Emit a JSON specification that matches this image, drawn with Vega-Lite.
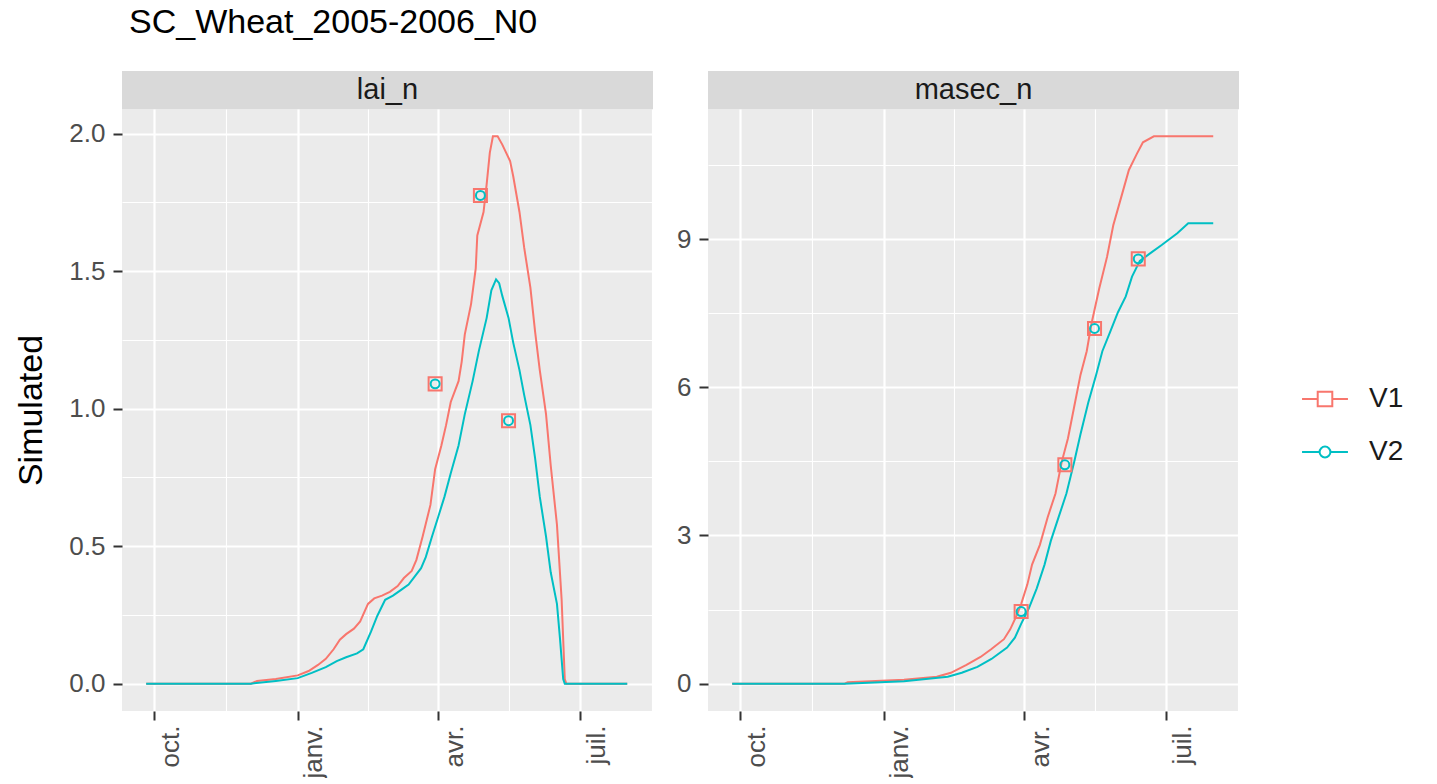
{
  "$schema": "https://vega.github.io/schema/vega-lite/v6.json",
  "padding": {"left": 14, "top": 6, "right": 0, "bottom": 0},
  "background": "white",
  "title": {"text": "SC_Wheat_2005-2006_N0", "anchor": "start", "frame": "group", "fontSize": 34, "fontWeight": "normal", "color": "#000000", "font": "Liberation Sans", "offset": 31, "dx": 7},
  "datasets": {
    "sim": [
      {"p":"lai_n","s":"V1","d":"2005-09-26","v":0},
      {"p":"lai_n","s":"V1","d":"2005-12-02","v":0},
      {"p":"lai_n","s":"V1","d":"2005-12-06","v":0.01},
      {"p":"lai_n","s":"V1","d":"2005-12-18","v":0.017},
      {"p":"lai_n","s":"V1","d":"2006-01-01","v":0.03},
      {"p":"lai_n","s":"V1","d":"2006-01-08","v":0.046},
      {"p":"lai_n","s":"V1","d":"2006-01-14","v":0.068},
      {"p":"lai_n","s":"V1","d":"2006-01-19","v":0.09},
      {"p":"lai_n","s":"V1","d":"2006-01-24","v":0.125},
      {"p":"lai_n","s":"V1","d":"2006-01-28","v":0.16},
      {"p":"lai_n","s":"V1","d":"2006-02-01","v":0.18},
      {"p":"lai_n","s":"V1","d":"2006-02-06","v":0.2},
      {"p":"lai_n","s":"V1","d":"2006-02-10","v":0.226},
      {"p":"lai_n","s":"V1","d":"2006-02-15","v":0.29},
      {"p":"lai_n","s":"V1","d":"2006-02-19","v":0.31},
      {"p":"lai_n","s":"V1","d":"2006-02-24","v":0.32},
      {"p":"lai_n","s":"V1","d":"2006-03-01","v":0.334},
      {"p":"lai_n","s":"V1","d":"2006-03-06","v":0.355},
      {"p":"lai_n","s":"V1","d":"2006-03-10","v":0.384},
      {"p":"lai_n","s":"V1","d":"2006-03-15","v":0.41},
      {"p":"lai_n","s":"V1","d":"2006-03-18","v":0.45},
      {"p":"lai_n","s":"V1","d":"2006-03-22","v":0.535},
      {"p":"lai_n","s":"V1","d":"2006-03-27","v":0.65},
      {"p":"lai_n","s":"V1","d":"2006-03-30","v":0.78},
      {"p":"lai_n","s":"V1","d":"2006-04-03","v":0.866},
      {"p":"lai_n","s":"V1","d":"2006-04-06","v":0.94},
      {"p":"lai_n","s":"V1","d":"2006-04-09","v":1.024},
      {"p":"lai_n","s":"V1","d":"2006-04-14","v":1.1},
      {"p":"lai_n","s":"V1","d":"2006-04-16","v":1.17},
      {"p":"lai_n","s":"V1","d":"2006-04-18","v":1.27},
      {"p":"lai_n","s":"V1","d":"2006-04-22","v":1.38},
      {"p":"lai_n","s":"V1","d":"2006-04-25","v":1.51},
      {"p":"lai_n","s":"V1","d":"2006-04-26","v":1.63},
      {"p":"lai_n","s":"V1","d":"2006-04-30","v":1.715},
      {"p":"lai_n","s":"V1","d":"2006-05-02","v":1.816},
      {"p":"lai_n","s":"V1","d":"2006-05-04","v":1.93},
      {"p":"lai_n","s":"V1","d":"2006-05-06","v":1.99},
      {"p":"lai_n","s":"V1","d":"2006-05-09","v":1.99},
      {"p":"lai_n","s":"V1","d":"2006-05-12","v":1.96},
      {"p":"lai_n","s":"V1","d":"2006-05-17","v":1.9},
      {"p":"lai_n","s":"V1","d":"2006-05-19","v":1.845},
      {"p":"lai_n","s":"V1","d":"2006-05-23","v":1.715},
      {"p":"lai_n","s":"V1","d":"2006-05-26","v":1.586},
      {"p":"lai_n","s":"V1","d":"2006-05-30","v":1.44},
      {"p":"lai_n","s":"V1","d":"2006-06-02","v":1.28},
      {"p":"lai_n","s":"V1","d":"2006-06-05","v":1.14},
      {"p":"lai_n","s":"V1","d":"2006-06-09","v":0.98},
      {"p":"lai_n","s":"V1","d":"2006-06-12","v":0.794},
      {"p":"lai_n","s":"V1","d":"2006-06-16","v":0.578},
      {"p":"lai_n","s":"V1","d":"2006-06-19","v":0.305},
      {"p":"lai_n","s":"V1","d":"2006-06-21","v":0.017},
      {"p":"lai_n","s":"V1","d":"2006-06-22","v":0},
      {"p":"lai_n","s":"V1","d":"2006-07-31","v":0},
      {"p":"lai_n","s":"V2","d":"2005-09-26","v":0},
      {"p":"lai_n","s":"V2","d":"2005-12-02","v":0},
      {"p":"lai_n","s":"V2","d":"2005-12-18","v":0.01},
      {"p":"lai_n","s":"V2","d":"2006-01-01","v":0.02},
      {"p":"lai_n","s":"V2","d":"2006-01-10","v":0.039},
      {"p":"lai_n","s":"V2","d":"2006-01-19","v":0.06},
      {"p":"lai_n","s":"V2","d":"2006-01-26","v":0.082},
      {"p":"lai_n","s":"V2","d":"2006-02-01","v":0.096},
      {"p":"lai_n","s":"V2","d":"2006-02-08","v":0.11},
      {"p":"lai_n","s":"V2","d":"2006-02-12","v":0.125},
      {"p":"lai_n","s":"V2","d":"2006-02-17","v":0.19},
      {"p":"lai_n","s":"V2","d":"2006-02-21","v":0.247},
      {"p":"lai_n","s":"V2","d":"2006-02-26","v":0.305},
      {"p":"lai_n","s":"V2","d":"2006-03-03","v":0.32},
      {"p":"lai_n","s":"V2","d":"2006-03-08","v":0.34},
      {"p":"lai_n","s":"V2","d":"2006-03-13","v":0.36},
      {"p":"lai_n","s":"V2","d":"2006-03-17","v":0.39},
      {"p":"lai_n","s":"V2","d":"2006-03-21","v":0.42},
      {"p":"lai_n","s":"V2","d":"2006-03-24","v":0.46},
      {"p":"lai_n","s":"V2","d":"2006-03-28","v":0.535},
      {"p":"lai_n","s":"V2","d":"2006-04-01","v":0.607},
      {"p":"lai_n","s":"V2","d":"2006-04-05","v":0.68},
      {"p":"lai_n","s":"V2","d":"2006-04-09","v":0.765},
      {"p":"lai_n","s":"V2","d":"2006-04-14","v":0.866},
      {"p":"lai_n","s":"V2","d":"2006-04-18","v":0.98},
      {"p":"lai_n","s":"V2","d":"2006-04-23","v":1.1},
      {"p":"lai_n","s":"V2","d":"2006-04-27","v":1.21},
      {"p":"lai_n","s":"V2","d":"2006-05-02","v":1.33},
      {"p":"lai_n","s":"V2","d":"2006-05-05","v":1.43},
      {"p":"lai_n","s":"V2","d":"2006-05-08","v":1.47},
      {"p":"lai_n","s":"V2","d":"2006-05-10","v":1.456},
      {"p":"lai_n","s":"V2","d":"2006-05-12","v":1.41},
      {"p":"lai_n","s":"V2","d":"2006-05-16","v":1.33},
      {"p":"lai_n","s":"V2","d":"2006-05-19","v":1.24},
      {"p":"lai_n","s":"V2","d":"2006-05-23","v":1.14},
      {"p":"lai_n","s":"V2","d":"2006-05-26","v":1.05},
      {"p":"lai_n","s":"V2","d":"2006-05-30","v":0.94},
      {"p":"lai_n","s":"V2","d":"2006-06-02","v":0.82},
      {"p":"lai_n","s":"V2","d":"2006-06-05","v":0.68},
      {"p":"lai_n","s":"V2","d":"2006-06-09","v":0.535},
      {"p":"lai_n","s":"V2","d":"2006-06-12","v":0.405},
      {"p":"lai_n","s":"V2","d":"2006-06-16","v":0.29},
      {"p":"lai_n","s":"V2","d":"2006-06-18","v":0.16},
      {"p":"lai_n","s":"V2","d":"2006-06-20","v":0.017},
      {"p":"lai_n","s":"V2","d":"2006-06-21","v":0},
      {"p":"lai_n","s":"V2","d":"2006-07-31","v":0},
      {"p":"masec_n","s":"V1","d":"2005-09-26","v":0},
      {"p":"masec_n","s":"V1","d":"2005-12-07","v":0},
      {"p":"masec_n","s":"V1","d":"2005-12-09","v":0.03},
      {"p":"masec_n","s":"V1","d":"2006-01-14","v":0.08},
      {"p":"masec_n","s":"V1","d":"2006-02-04","v":0.14},
      {"p":"masec_n","s":"V1","d":"2006-02-13","v":0.22},
      {"p":"masec_n","s":"V1","d":"2006-02-23","v":0.38},
      {"p":"masec_n","s":"V1","d":"2006-03-04","v":0.54},
      {"p":"masec_n","s":"V1","d":"2006-03-11","v":0.7},
      {"p":"masec_n","s":"V1","d":"2006-03-19","v":0.9},
      {"p":"masec_n","s":"V1","d":"2006-03-23","v":1.1},
      {"p":"masec_n","s":"V1","d":"2006-03-27","v":1.37},
      {"p":"masec_n","s":"V1","d":"2006-03-30","v":1.61},
      {"p":"masec_n","s":"V1","d":"2006-04-03","v":2.01},
      {"p":"masec_n","s":"V1","d":"2006-04-06","v":2.41},
      {"p":"masec_n","s":"V1","d":"2006-04-11","v":2.81},
      {"p":"masec_n","s":"V1","d":"2006-04-16","v":3.37},
      {"p":"masec_n","s":"V1","d":"2006-04-21","v":3.85},
      {"p":"masec_n","s":"V1","d":"2006-04-25","v":4.49},
      {"p":"masec_n","s":"V1","d":"2006-04-29","v":4.97},
      {"p":"masec_n","s":"V1","d":"2006-05-03","v":5.61},
      {"p":"masec_n","s":"V1","d":"2006-05-07","v":6.25},
      {"p":"masec_n","s":"V1","d":"2006-05-11","v":6.73},
      {"p":"masec_n","s":"V1","d":"2006-05-14","v":7.28},
      {"p":"masec_n","s":"V1","d":"2006-05-19","v":8.0},
      {"p":"masec_n","s":"V1","d":"2006-05-24","v":8.64},
      {"p":"masec_n","s":"V1","d":"2006-05-28","v":9.28},
      {"p":"masec_n","s":"V1","d":"2006-06-02","v":9.84},
      {"p":"masec_n","s":"V1","d":"2006-06-07","v":10.4},
      {"p":"masec_n","s":"V1","d":"2006-06-12","v":10.72},
      {"p":"masec_n","s":"V1","d":"2006-06-16","v":10.96},
      {"p":"masec_n","s":"V1","d":"2006-06-23","v":11.08},
      {"p":"masec_n","s":"V1","d":"2006-07-31","v":11.08},
      {"p":"masec_n","s":"V2","d":"2005-09-26","v":0},
      {"p":"masec_n","s":"V2","d":"2005-12-07","v":0},
      {"p":"masec_n","s":"V2","d":"2006-01-14","v":0.05},
      {"p":"masec_n","s":"V2","d":"2006-02-11","v":0.14},
      {"p":"masec_n","s":"V2","d":"2006-02-20","v":0.22},
      {"p":"masec_n","s":"V2","d":"2006-03-02","v":0.34},
      {"p":"masec_n","s":"V2","d":"2006-03-11","v":0.5},
      {"p":"masec_n","s":"V2","d":"2006-03-21","v":0.73},
      {"p":"masec_n","s":"V2","d":"2006-03-26","v":0.93},
      {"p":"masec_n","s":"V2","d":"2006-03-30","v":1.21},
      {"p":"masec_n","s":"V2","d":"2006-04-04","v":1.53},
      {"p":"masec_n","s":"V2","d":"2006-04-09","v":1.93},
      {"p":"masec_n","s":"V2","d":"2006-04-14","v":2.41},
      {"p":"masec_n","s":"V2","d":"2006-04-18","v":2.89},
      {"p":"masec_n","s":"V2","d":"2006-04-23","v":3.37},
      {"p":"masec_n","s":"V2","d":"2006-04-28","v":3.85},
      {"p":"masec_n","s":"V2","d":"2006-05-03","v":4.49},
      {"p":"masec_n","s":"V2","d":"2006-05-07","v":5.05},
      {"p":"masec_n","s":"V2","d":"2006-05-12","v":5.69},
      {"p":"masec_n","s":"V2","d":"2006-05-17","v":6.25},
      {"p":"masec_n","s":"V2","d":"2006-05-21","v":6.73},
      {"p":"masec_n","s":"V2","d":"2006-05-26","v":7.12},
      {"p":"masec_n","s":"V2","d":"2006-05-31","v":7.52},
      {"p":"masec_n","s":"V2","d":"2006-06-05","v":7.84},
      {"p":"masec_n","s":"V2","d":"2006-06-09","v":8.24},
      {"p":"masec_n","s":"V2","d":"2006-06-14","v":8.56},
      {"p":"masec_n","s":"V2","d":"2006-06-21","v":8.72},
      {"p":"masec_n","s":"V2","d":"2006-06-28","v":8.88},
      {"p":"masec_n","s":"V2","d":"2006-07-08","v":9.12},
      {"p":"masec_n","s":"V2","d":"2006-07-15","v":9.32},
      {"p":"masec_n","s":"V2","d":"2006-07-31","v":9.32}
    ],
    "obs": [
      {"p":"lai_n","s":"V1","d":"2006-03-30","v":1.09},
      {"p":"lai_n","s":"V1","d":"2006-04-28","v":1.775},
      {"p":"lai_n","s":"V1","d":"2006-05-16","v":0.956},
      {"p":"lai_n","s":"V2","d":"2006-03-30","v":1.09},
      {"p":"lai_n","s":"V2","d":"2006-04-28","v":1.775},
      {"p":"lai_n","s":"V2","d":"2006-05-16","v":0.956},
      {"p":"masec_n","s":"V1","d":"2006-03-30","v":1.46},
      {"p":"masec_n","s":"V1","d":"2006-04-27","v":4.43},
      {"p":"masec_n","s":"V1","d":"2006-05-16","v":7.19},
      {"p":"masec_n","s":"V1","d":"2006-06-13","v":8.6},
      {"p":"masec_n","s":"V2","d":"2006-03-30","v":1.46},
      {"p":"masec_n","s":"V2","d":"2006-04-27","v":4.43},
      {"p":"masec_n","s":"V2","d":"2006-05-16","v":7.19},
      {"p":"masec_n","s":"V2","d":"2006-06-13","v":8.6}
    ]
  },
  "hconcat": [
    {
      "spacing": 0,
      "vconcat": [
        {
          "width": 531, "height": 38,
          "view": {"fill": "#d9d9d9", "stroke": null},
          "data": {"values": [{"label": "lai_n"}]},
          "mark": {"type": "text", "fontSize": 29, "color": "#1a1a1a", "font": "Liberation Sans"},
          "encoding": {"text": {"field": "label"}}
        },
        {
          "width": 531, "height": 602,
          "resolve": {"axis": {"x": "independent", "y": "independent"}},
          "layer": [
            {
              "data": {"name": "sim"},
              "transform": [{"filter": "datum.p === 'lai_n'"}],
              "mark": {"type": "line", "strokeWidth": 2},
              "encoding": {
                "x": {"field": "d", "type": "temporal",
                  "scale": {"domain": [{"year": 2005, "month": 9, "date": 10, "hours": 12}, {"year": 2006, "month": 8, "date": 16, "hours": 12}], "nice": false},
                  "axis": {"values": [{"year": 2005, "month": 10, "date": 1}, {"year": 2006, "month": 1, "date": 1}, {"year": 2006, "month": 4, "date": 1}, {"year": 2006, "month": 7, "date": 1}],
                    "labelExpr": "['janv.','févr.','mars','avr.','mai','juin','juil.','août','sept.','oct.','nov.','déc.'][month(datum.value)]",
                    "title": null}},
                "y": {"field": "v", "type": "quantitative",
                  "scale": {"domain": [-0.0995, 2.0895], "nice": false, "zero": false},
                  "axis": {"values": [0, 0.5, 1, 1.5, 2], "format": ".1f", "title": "Simulated"}},
                "color": {"field": "s", "type": "nominal",
                  "scale": {"domain": ["V1", "V2"], "range": ["#F8766D", "#00BFC4"]},
                  "legend": {
                    "title": null, "orient": "none", "legendX": 1175, "legendY": 300, "padding": 0,
                    "labelFontSize": 28, "labelColor": "#1a1a1a", "labelFont": "Liberation Sans",
                    "symbolSize": 2916, "symbolStrokeWidth": 2, "rowPadding": 11, "labelOffset": 16,
                    "symbolType": "M-0.85,0H-0.27M0.27,0H0.85M-0.27,-0.27H0.27V0.27H-0.27Z",
                    "symbolFillColor": "transparent",
                    "encode": {"symbols": {"update": {
                      "shape": {"signal": "datum.value === 'V2' ? 'M-0.85,0H-0.2M0.2,0H0.85M0.2,0A0.2,0.2,0,1,1,-0.2,0A0.2,0.2,0,1,1,0.2,0' : 'M-0.85,0H-0.27M0.27,0H0.85M-0.27,-0.27H0.27V0.27H-0.27Z'"},
                      "fill": {"value": "transparent"}}}}
                  }}
              }
            },
            {
              "data": {"name": "obs"},
              "transform": [{"filter": "datum.p === 'lai_n' && datum.s === 'V1'"}],
              "mark": {"type": "point", "shape": "square", "size": 170, "filled": false, "strokeWidth": 2, "opacity": 1},
              "encoding": {
                "x": {"field": "d", "type": "temporal",
                  "axis": {"orient": "top", "values": [{"year": 2005, "month": 11, "date": 16}, {"year": 2006, "month": 2, "date": 15}, {"year": 2006, "month": 5, "date": 16, "hours": 12}, {"year": 2006, "month": 8, "date": 16}],
                    "labels": false, "ticks": false, "domain": false, "grid": true, "gridWidth": 1.1, "title": null}},
                "y": {"field": "v", "type": "quantitative",
                  "axis": {"orient": "right", "values": [0.25, 0.75, 1.25, 1.75], "labels": false, "ticks": false, "domain": false, "grid": true, "gridWidth": 1.1, "title": null}},
                "color": {"field": "s", "type": "nominal"}
              }
            },
            {
              "data": {"name": "obs"},
              "transform": [{"filter": "datum.p === 'lai_n' && datum.s === 'V2'"}],
              "mark": {"type": "point", "shape": "circle", "size": 80, "filled": false, "strokeWidth": 2, "opacity": 1},
              "encoding": {
                "x": {"field": "d", "type": "temporal", "axis": null},
                "y": {"field": "v", "type": "quantitative", "axis": null},
                "color": {"field": "s", "type": "nominal"}
              }
            }
          ]
        }
      ]
    },
    {
      "spacing": 0,
      "vconcat": [
        {
          "width": 531, "height": 38,
          "view": {"fill": "#d9d9d9", "stroke": null},
          "data": {"values": [{"label": "masec_n"}]},
          "mark": {"type": "text", "fontSize": 29, "color": "#1a1a1a", "font": "Liberation Sans"},
          "encoding": {"text": {"field": "label"}}
        },
        {
          "width": 531, "height": 602,
          "resolve": {"axis": {"x": "independent", "y": "independent"}},
          "layer": [
            {
              "data": {"name": "sim"},
              "transform": [{"filter": "datum.p === 'masec_n'"}],
              "mark": {"type": "line", "strokeWidth": 2},
              "encoding": {
                "x": {"field": "d", "type": "temporal",
                  "scale": {"domain": [{"year": 2005, "month": 9, "date": 10, "hours": 12}, {"year": 2006, "month": 8, "date": 16, "hours": 12}], "nice": false},
                  "axis": {"values": [{"year": 2005, "month": 10, "date": 1}, {"year": 2006, "month": 1, "date": 1}, {"year": 2006, "month": 4, "date": 1}, {"year": 2006, "month": 7, "date": 1}],
                    "labelExpr": "['janv.','févr.','mars','avr.','mai','juin','juil.','août','sept.','oct.','nov.','déc.'][month(datum.value)]",
                    "title": null}},
                "y": {"field": "v", "type": "quantitative",
                  "scale": {"domain": [-0.554, 11.634], "nice": false, "zero": false},
                  "axis": {"values": [0, 3, 6, 9], "format": "d", "title": null}},
                "color": {"field": "s", "type": "nominal"}
              }
            },
            {
              "data": {"name": "obs"},
              "transform": [{"filter": "datum.p === 'masec_n' && datum.s === 'V1'"}],
              "mark": {"type": "point", "shape": "square", "size": 170, "filled": false, "strokeWidth": 2, "opacity": 1},
              "encoding": {
                "x": {"field": "d", "type": "temporal",
                  "axis": {"orient": "top", "values": [{"year": 2005, "month": 11, "date": 16}, {"year": 2006, "month": 2, "date": 15}, {"year": 2006, "month": 5, "date": 16, "hours": 12}, {"year": 2006, "month": 8, "date": 16}],
                    "labels": false, "ticks": false, "domain": false, "grid": true, "gridWidth": 1.1, "title": null}},
                "y": {"field": "v", "type": "quantitative",
                  "axis": {"orient": "right", "values": [1.5, 4.5, 7.5, 10.5], "labels": false, "ticks": false, "domain": false, "grid": true, "gridWidth": 1.1, "title": null}},
                "color": {"field": "s", "type": "nominal"}
              }
            },
            {
              "data": {"name": "obs"},
              "transform": [{"filter": "datum.p === 'masec_n' && datum.s === 'V2'"}],
              "mark": {"type": "point", "shape": "circle", "size": 80, "filled": false, "strokeWidth": 2, "opacity": 1},
              "encoding": {
                "x": {"field": "d", "type": "temporal", "axis": null},
                "y": {"field": "v", "type": "quantitative", "axis": null},
                "color": {"field": "s", "type": "nominal"}
              }
            }
          ]
        }
      ]
    }
  ],
  "spacing": 23,
  "config": {
    "font": "Liberation Sans",
    "view": {"fill": "#ebebeb", "stroke": null},
    "axis": {
      "grid": true, "gridColor": "#ffffff", "gridWidth": 2.2, "gridOpacity": 1,
      "domain": false,
      "tickColor": "#333333", "tickSize": 9, "tickWidth": 2,
      "labelColor": "#4d4d4d", "labelFontSize": 26, "labelFont": "Liberation Sans", "labelPadding": 8,
      "titleColor": "#000000", "titleFontSize": 34, "titleFontWeight": "normal", "titleFont": "Liberation Sans", "titlePadding": 20
    },
    "axisX": {"labelAngle": 270, "labelBaseline": "top", "labelPadding": 5, "labelOffset": 3},
    "legend": {"labelFont": "Liberation Sans"}
  }
}
